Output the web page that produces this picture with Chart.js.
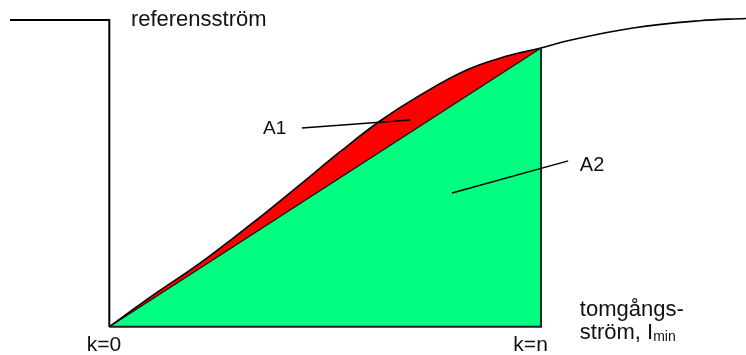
<!DOCTYPE html>
<html>
<head>
<meta charset="utf-8">
<script src="https://cdn.jsdelivr.net/npm/chart.js@4"></script>
<style>
  html, body { margin: 0; padding: 0; background: #fff; }
  #wrap { width: 746px; height: 355px; position: relative; }
</style>
</head>
<body>
<div id="wrap"><canvas id="strom"></canvas></div>
<script>
// reference current: flat level, then drops to zero at k=0
const refK = [-2.30, 0, 0];
const refI = [11.0, 11.0, 0];

// measured current curve
const curveK = [0, 0.90, 2.10, 3.26, 4.42, 5.34, 6.27, 7.19, 8.29, 9.21, 10, 10.67, 12.13, 13.68, 14.75];
const curveI = [0, 1.01, 2.28, 3.65, 5.10, 6.27, 7.38, 8.30, 9.22, 9.71, 10, 10.28, 10.72, 10.98, 11.06];

// straight chord k=0 .. k=n
const chordK = [0, 10];
const chordI = [0, 10];

// outline of the A2 area (bottom edge and right edge)
const frameK = [0, 10, 10];
const frameI = [0, 0, 10];

// blank band right of k=n, hides the red fill there
const maskK = [10, 15];
const maskI = [12, 12];

// leader lines for the area labels
const leadA1K = [4.46, 6.97];
const leadA1I = [7.13, 7.42];
const leadA2K = [7.94, 10.63];
const leadA2I = [4.80, 5.95];

function pts(xs, ys) {
  return xs.map((x, i) => ({ x: x, y: ys[i] }));
}

// text labels, placed in k / current units
const labels = [
  { text: 'referensström', k: 0.50, i: 10.79, size: 22 },
  { text: 'A1', k: 3.56, i: 6.91, size: 19 },
  { text: 'A2', k: 10.90, i: 5.58, size: 20 },
  { text: 'k=0', k: -0.52, i: -0.88, size: 21 },
  { text: 'k=n', k: 9.36, i: -0.88, size: 21 },
  { text: 'tomgångs-', k: 10.90, i: 0.37, size: 22 }
];

const textPlugin = {
  id: 'textLabels',
  afterDraw(chart) {
    const ctx = chart.ctx;
    const xs = chart.scales.x, ys = chart.scales.y;
    ctx.save();
    ctx.fillStyle = '#111';
    ctx.textBaseline = 'alphabetic';
    ctx.textAlign = 'left';
    labels.forEach(l => {
      ctx.font = l.size + 'px "Liberation Sans", Arial, sans-serif';
      ctx.fillText(l.text, xs.getPixelForValue(l.k), ys.getPixelForValue(l.i));
    });
    // second line with subscript
    const x0 = xs.getPixelForValue(10.90);
    const y0 = ys.getPixelForValue(-0.45);
    ctx.font = '22px "Liberation Sans", Arial, sans-serif';
    const first = 'ström, I';
    ctx.fillText(first, x0, y0);
    const w = ctx.measureText(first).width;
    ctx.font = '14px "Liberation Sans", Arial, sans-serif';
    ctx.fillText('min', x0 + w, y0 + 2);
    ctx.restore();
  }
};

const line = { showLine: true, pointRadius: 0, fill: false };

const ctx = document.getElementById('strom').getContext('2d');
new Chart(ctx, {
  type: 'scatter',
  data: {
    datasets: [
      { ...line, data: pts(leadA1K, leadA1I), borderColor: '#000', borderWidth: 1.5 },
      { ...line, data: pts(leadA2K, leadA2I), borderColor: '#000', borderWidth: 1.5 },
      { ...line, data: pts(refK, refI), borderColor: '#000', borderWidth: 2 },
      { ...line, data: pts(frameK, frameI), borderColor: '#222', borderWidth: 2 },
      { ...line, data: pts(curveK, curveI), borderColor: '#000', borderWidth: 1.6, tension: 0.4 },
      { ...line, data: pts(chordK, chordI), borderColor: '#111', borderWidth: 1.2,
        backgroundColor: '#00ff80', fill: 'origin' },
      { ...line, data: pts(maskK, maskI), borderWidth: 0, backgroundColor: '#fff', fill: { value: -0.3 } },
      { ...line, data: pts(curveK, curveI), borderWidth: 0, tension: 0.4,
        backgroundColor: '#ff0000', fill: 'origin' }
    ]
  },
  options: {
    responsive: true,
    maintainAspectRatio: false,
    animation: false,
    layout: { padding: 0 },
    plugins: { legend: { display: false }, tooltip: { enabled: false } },
    scales: {
      x: { type: 'linear', display: false, min: -2.532, max: 14.749 },
      y: { type: 'linear', display: false, min: -1.015, max: 11.722 }
    }
  },
  plugins: [textPlugin]
});
</script>
</body>
</html>
